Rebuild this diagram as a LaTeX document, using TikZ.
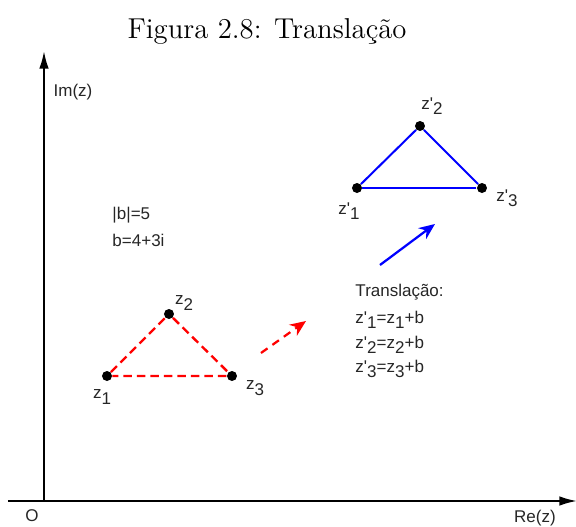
\documentclass[tikz,border=0pt]{standalone}
\usepackage{fontspec}
\setsansfont{Liberation Sans}
\usetikzlibrary{arrows.meta, positioning}
\tikzset{
    plane/.style={x=0.4pt, y=-0.4pt, font=\sffamily\fontsize{6.8}{8}\selectfont, text=black!85},
    axis/.style={line width=0.8pt, -{Latex[length=7pt, width=3.8pt]}},
    dot/.style={fill, circle, inner sep=0pt, minimum size=4pt},
    lbl/.style={inner sep=0pt},
    % triangle before and after the shift
    oldtri/.style={red, line width=0.95pt, dash pattern=on 3.4pt off 2pt},
    newtri/.style={blue, line width=0.8pt},
    movearrow/.style={line width=0.9pt, -{Stealth[length=6.4pt, width=5.4pt]}},
}
\newcommand{\lowr}[1]{\raisebox{-0.6ex}{#1}}
\newcommand{\zp}{z\textquotesingle}

\begin{document}
\begin{tikzpicture}[plane]
    \useasboundingbox (0,0) rectangle (576,527);
    \node[font=\rmfamily\fontsize{11.5}{13}\selectfont, text=black] (title) at (267,31) {Figura 2.8: Translação};

    % axes
    \coordinate (o)  at (44,501);
    \coordinate (xl) at (8,501);
    \coordinate (xr) at (577,501);
    \coordinate (yt) at (44,51);
    \draw[axis] (xl) -- (xr);
    \draw[axis] (o) -- (yt);
    \node[lbl] (olbl) at (32,516) {O};
    \node[lbl] (re)   at (535,518) {Re(z)};
    \node[lbl] (im)   at (73,92)   {Im(z)};

    \node[lbl, anchor=west] (modb) at (112,215) {|b|=5};
    \node[lbl, anchor=west] (bval) at (112,240) {b=4+3i};

    % original triangle
    \node[dot] (z1) at (107,376) {};
    \node[dot] (z2) at (169,314) {};
    \node[dot] (z3) at (232,376) {};
    \draw[oldtri] (z1) -- (z2) -- (z3) -- (z1);
    \node[lbl] (z1l) at (102,397) {z\lowr{1}};
    \node[lbl] (z2l) at (184,303) {z\lowr{2}};
    \node[lbl] (z3l) at (255,388) {z\lowr{3}};

    % translated triangle
    \node[dot] (w1) at (357,188) {};
    \node[dot] (w2) at (420,126) {};
    \node[dot] (w3) at (482,188) {};
    \draw[newtri] (w1) -- (w2) -- (w3);
    \draw[blue, line width=0.6pt] (w3) -- (w1);
    \node[lbl] (w1l) at (349,211) {\zp\lowr{1}};
    \node[lbl] (w2l) at (432,106) {\zp\lowr{2}};
    \node[lbl] (w3l) at (507,198) {\zp\lowr{3}};

    % shift arrows
    \coordinate (ra) at (261,353);
    \coordinate (rb) at (306,321);
    \draw[movearrow, red, dash pattern=on 3.2pt off 2.4pt] (ra) -- (rb);
    \coordinate (ba) at (380,265);
    \coordinate (bb) at (435,224);
    \draw[movearrow, blue] (ba) -- (bb);

    \node[lbl, anchor=west] (tr)  at (355,292) {Translação:};
    \node[lbl, anchor=west] (tr1) at (355,320) {\zp\lowr{1}=z\lowr{1}+b};
    \node[lbl, anchor=west] (tr2) at (355,345) {\zp\lowr{2}=z\lowr{2}+b};
    \node[lbl, anchor=west] (tr3) at (355,369) {\zp\lowr{3}=z\lowr{3}+b};
\end{tikzpicture}
\end{document}
